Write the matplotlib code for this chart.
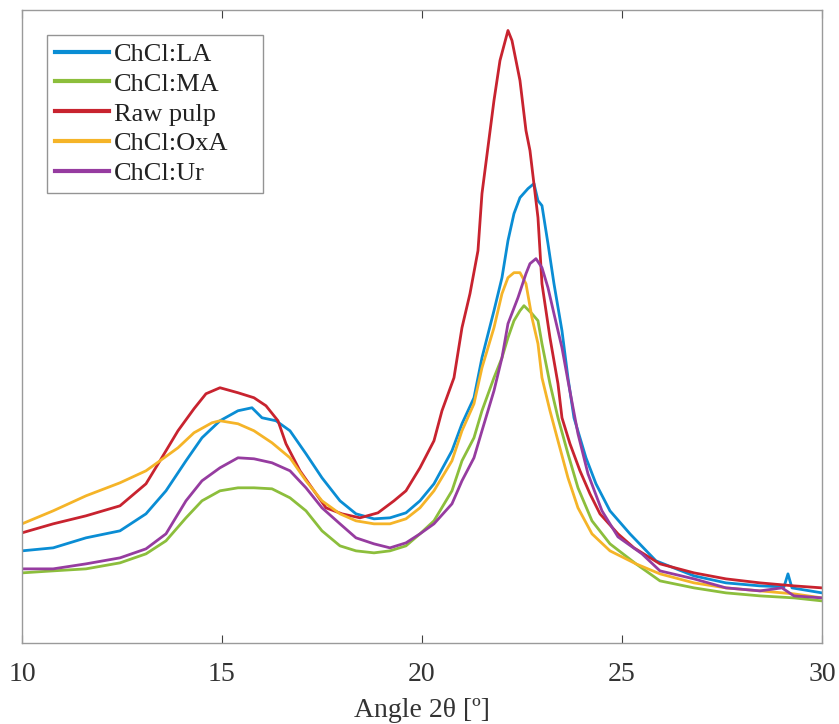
import matplotlib
matplotlib.use('Agg')
import matplotlib.pyplot as plt

plt.rcParams['font.family'] = ['Liberation Serif', 'DejaVu Serif']

# XRD patterns, intensity in arbitrary units
x_raw = [10.0, 10.78, 11.6, 12.45, 13.1, 13.45, 13.9, 14.3, 14.6, 14.95, 15.4, 15.8, 16.1, 16.4,
         16.6, 16.95, 17.3, 17.6, 18.0, 18.45, 18.9, 19.3, 19.6, 19.95, 20.3, 20.5, 20.8, 21.0,
         21.2, 21.4, 21.5, 21.8, 21.95, 22.15, 22.25, 22.3, 22.45, 22.6, 22.7, 22.9, 23.0, 23.2,
         23.4, 23.5, 23.7, 23.95, 24.2, 24.45, 24.9, 25.3, 25.95, 26.8, 27.6, 28.45, 29.3, 30.0]
y_raw = [110, 119, 127, 137, 159, 182, 212, 234, 249, 255, 250, 245, 237, 222,
         199, 172, 152, 135, 129, 125, 130, 142, 152, 175, 202, 232, 265, 315,
         349, 392, 449, 542, 582, 612, 602, 592, 562, 512, 492, 425, 359, 305,
         259, 225, 199, 172, 149, 129, 109, 95, 79, 70, 64, 60, 57, 55]

x_la = [10.0, 10.78, 11.6, 12.45, 13.1, 13.6, 14.1, 14.5, 14.95, 15.4, 15.75, 16.0, 16.35, 16.7,
        17.1, 17.5, 17.95, 18.35, 18.8, 19.2, 19.6, 19.95, 20.3, 20.75, 21.0, 21.3, 21.5, 21.8,
        22.0, 22.15, 22.3, 22.45, 22.65, 22.8, 22.9, 23.0, 23.15, 23.3, 23.5, 23.65, 23.8, 24.1,
        24.35, 24.7, 25.2, 25.85, 26.8, 27.6, 28.45, 29.05, 29.15, 29.25, 30.0]
y_la = [92, 95, 105, 112, 129, 152, 182, 205, 222, 232, 235, 225, 222, 212,
        189, 165, 142, 129, 124, 125, 130, 142, 159, 192, 219, 245, 285, 332,
        365, 402, 429, 445, 454, 459, 442, 437, 399, 359, 312, 265, 225, 185,
        159, 132, 109, 82, 67, 60, 57, 56, 69, 55, 50]

x_oxa = [10.0, 10.78, 11.6, 12.45, 13.1, 13.45, 13.9, 14.3, 14.75, 14.95, 15.4, 15.8, 16.25, 16.7,
         17.1, 17.5, 17.95, 18.35, 18.8, 19.2, 19.6, 19.95, 20.3, 20.75, 21.0, 21.3, 21.5, 21.8,
         22.0, 22.15, 22.3, 22.45, 22.6, 22.75, 22.9, 23.0, 23.2, 23.4, 23.65, 23.9, 24.25, 24.7,
         25.35, 25.95, 26.8, 27.6, 28.45, 29.3, 30.0]
y_oxa = [119, 132, 147, 160, 172, 182, 195, 210, 220, 222, 219, 212, 200, 185,
         162, 142, 129, 122, 119, 119, 124, 135, 152, 182, 212, 239, 275, 315,
         349, 365, 370, 370, 359, 325, 299, 265, 232, 202, 165, 135, 109, 92,
         79, 69, 60, 55, 52, 49, 45]

x_ur = [10.0, 10.78, 11.6, 12.45, 13.1, 13.6, 14.1, 14.5, 14.95, 15.4, 15.8, 16.25, 16.7, 17.1,
        17.5, 17.95, 18.35, 18.8, 19.2, 19.6, 19.95, 20.3, 20.75, 21.0, 21.3, 21.5, 21.8, 22.0,
        22.15, 22.4, 22.6, 22.7, 22.85, 23.0, 23.15, 23.3, 23.5, 23.65, 23.9, 24.15, 24.5, 24.9,
        25.5, 25.95, 26.8, 27.6, 28.45, 29.0, 29.3, 30.0]
y_ur = [74, 74, 79, 85, 94, 109, 142, 162, 175, 185, 184, 180, 172, 155,
        135, 119, 105, 99, 95, 100, 109, 119, 139, 162, 185, 212, 252, 285,
        319, 345, 369, 379, 384, 375, 355, 329, 295, 262, 209, 169, 132, 106,
        89, 72, 64, 55, 52, 55, 47, 45]

x_ma = [10.0, 10.78, 11.6, 12.45, 13.1, 13.6, 14.1, 14.5, 14.95, 15.4, 15.8, 16.25, 16.7, 17.1,
        17.5, 17.95, 18.35, 18.8, 19.2, 19.6, 19.95, 20.3, 20.75, 21.0, 21.3, 21.5, 21.8, 22.0,
        22.15, 22.3, 22.45, 22.55, 22.75, 22.9, 23.0, 23.2, 23.4, 23.65, 23.9, 24.25, 24.7, 25.35,
        25.95, 26.8, 27.6, 28.45, 29.3, 30.0]
y_ma = [70, 72, 74, 80, 89, 102, 125, 142, 152, 155, 155, 154, 145, 132,
        112, 97, 92, 90, 92, 97, 109, 122, 152, 182, 205, 232, 265, 285,
        305, 322, 332, 337, 329, 322, 299, 259, 225, 189, 155, 122, 99, 79,
        62, 55, 50, 47, 45, 42]

fig = plt.figure(figsize=(8.39, 7.24), dpi=100)
ax = fig.add_axes([0.0262, 0.1120, 0.9535, 0.8735])

lw = 2.0
ax.plot(x_la, y_la, color='#0A8DD4', lw=lw, label='ChCl:LA')
ax.plot(x_ma, y_ma, color='#8CBE3C', lw=lw, label='ChCl:MA')
ax.plot(x_raw, y_raw, color='#C8232F', lw=lw, label='Raw pulp')
ax.plot(x_oxa, y_oxa, color='#F5B428', lw=lw, label='ChCl:OxA')
ax.plot(x_ur, y_ur, color='#963CA0', lw=lw, label='ChCl:Ur')

ax.set_xlim(10, 30)
ax.set_ylim(0, 632)
ax.set_xticks([10, 15, 20, 25, 30])
ax.set_yticks([])
ax.tick_params(axis='x', direction='in', top=True, length=6, width=0.8,
               color='#404040', labelsize=20, labelcolor='#333333', pad=14)
for s in ax.spines.values():
    s.set_color('#9a9a9a')
    s.set_linewidth(1.0)

ax.set_xlabel('Angle 2θ [º]', fontsize=20, color='#333333', labelpad=8)

# legend box stretched to the width of the original (extra room on the right)
leg = ax.legend(loc='upper left', bbox_to_anchor=(0.031, 0.0, 0.27, 0.962),
                mode='expand', fontsize=19, frameon=True, fancybox=False,
                handlelength=2.05, handletextpad=0.2, labelspacing=0.24,
                borderpad=0.3, borderaxespad=0.0)
leg.get_frame().set_edgecolor('#7a7a7a')
leg.get_frame().set_linewidth(1.0)
for t in leg.get_texts():
    t.set_color('#222222')
for h in leg.get_lines():
    h.set_linewidth(3.0)

fig.savefig('out.png', dpi=100)
